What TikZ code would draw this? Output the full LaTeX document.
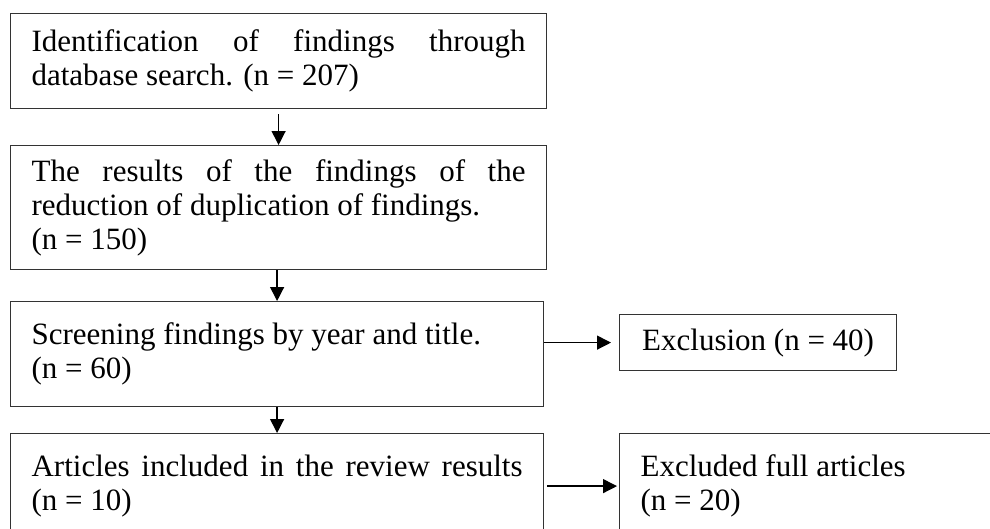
\documentclass[tikz,border=0pt]{standalone}
\usepackage{fontspec}
\setmainfont{Liberation Serif}
\usetikzlibrary{arrows.meta}

\begin{document}
\begin{tikzpicture}[x=1pt,y=-1pt,
  stage/.style={draw=black!80, line width=1.2pt, anchor=north west, inner xsep=21pt, inner ysep=0pt, font=\fontsize{31}{34}\selectfont},
  flow/.style={-{Triangle[length=14pt,width=14pt]}, line width=1.3pt}]
  \path[use as bounding box, clip] (0,0) rectangle (990,528);
  \node[stage, text width=494pt, minimum height=95pt, align=justify] (b1) at (10,13)
    {Identification of findings through\linebreak database search. (n = 207)};
  \node[stage, text width=494pt, minimum height=124pt, align=justify] (b2) at (10,145)
    {The results of the findings of the\linebreak reduction of duplication of findings.\\(n = 150)};
  \node[stage, text width=491pt, minimum height=105pt, align=flush left] (b3) at (10,301)
    {Screening findings by year and title.\\(n = 60)};
  \node[stage, text width=491pt, minimum height=105pt, align=justify] (b4) at (10,433)
    {Articles included in the review results\linebreak (n = 10)};
  \node[stage, inner xsep=0pt, minimum width=277pt, minimum height=56pt] (ex) at (619,314)
    {Exclusion (n = 40)};
  \node[stage, text width=400pt, minimum height=105pt, align=flush left] (b5) at (619,433)
    {Excluded full articles\\(n = 20)};
  \draw[flow, shorten <=5pt] (b1.south) -- (b2.north);
  \draw[flow] (b2.south -| b3.north) -- (b3.north);
  \draw[flow] (b3.south) -- (b4.north);
  \draw[flow, shorten >=8pt] (b3.east |- ex.west) -- (ex.west);
  \draw[flow, shorten <=3pt, shorten >=2pt] (b4.east) -- (b4.east -| b5.west);
\end{tikzpicture}
\end{document}
